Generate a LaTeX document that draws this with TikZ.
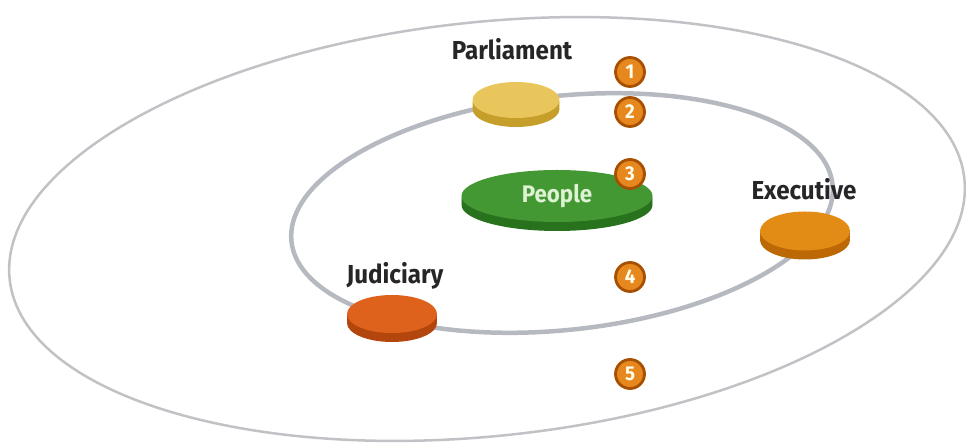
\documentclass[tikz,border=0pt]{standalone}
\usepackage{fontspec}
\newfontfamily\lblfont[FakeStretch=0.93]{Fira Sans}
\usetikzlibrary{shapes.geometric,shadows}

\definecolor{ringgray}{RGB}{182,186,192}
\definecolor{outergray}{RGB}{192,194,197}
\definecolor{parltop}{RGB}{233,198,92}
\definecolor{parlside}{RGB}{198,158,42}
\definecolor{exectop}{RGB}{226,140,22}
\definecolor{execside}{RGB}{188,104,4}
\definecolor{judtop}{RGB}{222,98,28}
\definecolor{judside}{RGB}{178,70,12}
\definecolor{peopletop}{RGB}{68,152,52}
\definecolor{peopleside}{RGB}{40,114,30}
\definecolor{peopletext}{RGB}{222,242,212}
\definecolor{badgefill}{RGB}{230,136,30}
\definecolor{badgerim}{RGB}{168,80,2}
\definecolor{lbltext}{RGB}{38,38,40}

\tikzset{
  ring/.style={draw=#1},
  disk/.style 2 args={ellipse, inner sep=0pt, minimum width=88pt, minimum height=36pt, fill=#1,
    general shadow={fill=#2, shadow yshift=-9pt},
    general shadow={fill=#2, shadow yshift=-6pt},
    general shadow={fill=#2, shadow yshift=-3pt}},
  badge/.style={circle, inner sep=0pt, minimum size=29pt, fill=badgefill, draw=badgerim,
    line width=2.8pt, text=white!92!yellow, font=\lblfont\bfseries\fontsize{20}{20}\selectfont},
  lbl/.style={anchor=base, inner sep=0pt, text=lbltext, font=\lblfont\bfseries\fontsize{26}{29}\selectfont}
}

\begin{document}
\begin{tikzpicture}[x=1pt,y=1pt]
\useasboundingbox (0,0) rectangle (966,446);

% Outer ring
\draw[ring=outergray,line width=2.5pt,rotate around={6:(487,217)}] (487,217) ellipse [x radius=480, y radius=207];

% Inner ring
\draw[ring=ringgray,line width=4.5pt,rotate around={6:(562,233)}] (562,233) ellipse [x radius=272, y radius=117];

% Powers on the inner ring
\node[disk={parltop}{parlside}, minimum width=87pt, minimum height=36pt] (parl) at (516,346) {};
\node[disk={judtop}{judside}, minimum width=90pt, minimum height=38pt] (jud) at (392,132) {};
\node[disk={exectop}{execside}, minimum width=90pt, minimum height=39pt] (exec) at (805,215) {};

% People in the centre
\node[disk={peopletop}{peopleside}, minimum width=191pt, minimum height=52pt,
  text=peopletext, font=\lblfont\bfseries\fontsize{24}{27}\selectfont] (people) at (557,250) {\raisebox{-10pt}{People}};

% Labels
\node[lbl] (parl-lbl) at (512,386) {Parliament};
\node[lbl] (jud-lbl) at (395,162) {Judiciary};
\node[lbl] (exec-lbl) at (804,246) {Executive};

% Numbered markers
\foreach \n/\y in {1/374,2/334,3/272,4/169,5/72} {
  \node[badge] (badge\n) at (630,\y) {\n};
}
\end{tikzpicture}
\end{document}
